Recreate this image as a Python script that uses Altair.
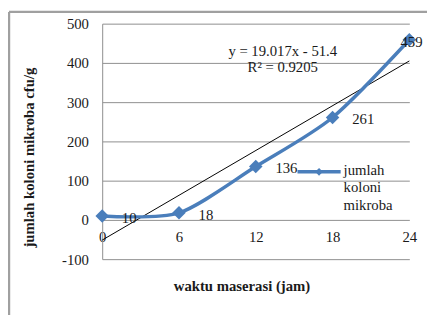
import altair as alt
import pandas as pd

hours = [0, 6, 12, 18, 24]
counts = [10, 18, 136, 261, 459]
x_ticks = [0, 6, 12, 18, 24]
y_ticks = [-100, 0, 100, 200, 300, 400, 500]
eq_text = ["y = 19.017x - 51.4", "R² = 0.9205"]
legend_lines = ["jumlah", "koloni", "mikroba"]

df = pd.DataFrame({"jam": hours, "koloni": counts})
df["label"] = df["koloni"].astype(str)

BLUE = "#4a7ebb"
GRID = "#8e8e8e"
FONT = "Times New Roman, Liberation Serif, DejaVu Serif, serif"
TXT = "#1a1a1a"
W, H = 313, 240
LBL = "datum.value < 0 ? '-' + abs(datum.value) : '' + datum.value"

x = alt.X(
    "jam:Q",
    scale=alt.Scale(domain=[0, 24], nice=False),
    axis=alt.Axis(
        values=x_ticks, offset=-40, grid=False, domain=False, ticks=False,
        labelPadding=10, labelFontSize=15, labelFont=FONT, labelColor=TXT,
        labelAngle=0, labelFlush=False, labelExpr=LBL,
        title="waktu maserasi (jam)", titleFont=FONT, titleFontSize=15,
        titleFontWeight="bold", titleColor=TXT, titleX=142, titleY=67,
        titleBaseline="middle",
    ),
)
y = alt.Y(
    "koloni:Q",
    scale=alt.Scale(domain=[-100, 500], nice=False),
    axis=alt.Axis(
        values=y_ticks, grid=True, gridColor=GRID, gridWidth=1,
        domain=True, domainColor=GRID, ticks=False,
        labelPadding=14, labelFontSize=15, labelFont=FONT, labelColor=TXT,
        labelExpr=LBL,
        title="jumlah koloni mikroba cfu/g", titleFont=FONT, titleFontSize=15,
        titleFontWeight="bold", titleColor=TXT, titleX=-67, titleY=136,
    ),
)

base = alt.Chart(df)

trend = base.transform_regression("jam", "koloni", extent=[0, 24]).mark_line(
    color="black", strokeWidth=1
).encode(x=x, y=y)

line = base.mark_line(interpolate="cardinal", tension=0.2, color=BLUE, strokeWidth=3.5).encode(x=x, y=y)

pts = base.mark_point(shape="diamond", filled=True, size=190, color=BLUE, opacity=1).encode(x=x, y=y)

labels_a = base.transform_filter("datum.jam < 24").mark_text(
    align="left", baseline="middle", dx=20, dy=2, font=FONT, fontSize=15, color=TXT
).encode(x=x, y=y, text="label:N")
labels_b = base.transform_filter("datum.jam >= 24").mark_text(
    align="left", baseline="middle", dx=-9, dy=2, font=FONT, fontSize=15, color=TXT
).encode(x=x, y=y, text="label:N")

eq = alt.Chart(pd.DataFrame({"t": ["\n".join(eq_text)]})).mark_text(
    lineBreak="\n", align="center", baseline="top", font=FONT, fontSize=15,
    lineHeight=16, color=TXT
).encode(x=alt.value(184), y=alt.value(21), text="t:N")

one = alt.Chart(pd.DataFrame({"t": ["\n".join(legend_lines)]}))
leg_rule = one.mark_rule(color=BLUE, strokeWidth=3.5).encode(
    x=alt.value(199), x2=alt.value(243), y=alt.value(151)
)
leg_pt = one.mark_point(shape="diamond", filled=True, size=60, color=BLUE, opacity=1).encode(
    x=alt.value(221), y=alt.value(151)
)
leg_txt = one.mark_text(
    lineBreak="\n", align="left", baseline="top", font=FONT, fontSize=15,
    lineHeight=18, color=TXT
).encode(x=alt.value(246), y=alt.value(142), text="t:N")

border_l = one.mark_rule(color="#a0a0a0", strokeWidth=2.5).encode(
    x=alt.value(-95), y=alt.value(-12), y2=alt.value(H + 57)
)
border_t = one.mark_rule(color="#a0a0a0", strokeWidth=2.5).encode(
    x=alt.value(-95), x2=alt.value(W + 18), y=alt.value(-12)
)

chart = alt.layer(
    trend, line, pts, labels_a, labels_b, eq, leg_rule, leg_pt, leg_txt, border_l, border_t
).properties(
    width=W, height=H,
    padding={"left": 96, "top": 13, "right": 18, "bottom": 57},
    autosize=alt.AutoSizeParams(type="none"),
    background="white",
).configure_view(stroke=None)

chart.save("out.html", embed_options={"renderer": "svg", "actions": False})
